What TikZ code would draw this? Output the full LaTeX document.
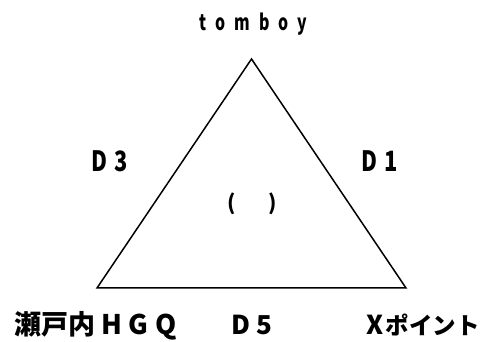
\documentclass[tikz,border=0pt]{standalone}
\usepackage{fontspec}
\setmainfont{Noto Sans CJK JP}
\usetikzlibrary{positioning}

% spaced-out latin letters
\newcommand{\lsp}[2][25]{{\addfontfeature{LetterSpace=#1}#2}}
\newcommand{\fsz}[1]{\fontsize{#1}{#1}\selectfont}
% condensed letters
\newcommand{\narrow}[2][0.75]{\scalebox{#1}[1]{#2}}

\begin{document}
\begin{tikzpicture}[x=1pt,y=1pt]
    \tikzstyle{lbl}=[font=\fsz{26}\bfseries,inner
    sep=0pt,anchor=base west]

    \tikzstyle{side}=[draw=black,line width=1.5pt,line join=miter]

    \useasboundingbox (0,0) rectangle (481,342);

    \coordinate (apex) at (251.5,283);
    \coordinate (hgq_pt) at (97,54);
    \coordinate (xpt_pt) at (406,54);

    \node[lbl,font=\fsz{22}\bfseries](tomboy) at (199,311){\narrow[0.72]{\lsp[58]{tomboy}}};
    \node[lbl,font=\fsz{28}\bfseries](d3) at (91,170.3){\narrow[0.78]{\lsp[32]{D3}}};
    \node[lbl,font=\fsz{28}\bfseries](d1) at (361,170.3){\narrow[0.78]{\lsp[32]{D1}}};
    \node[lbl,anchor=center,font=\fsz{21}\bfseries](blank) at (252.5,138){(\hspace{33pt})};

    \node[lbl,font=\fsz{27}\bfseries](hgq) at (14,7){瀬戸内\hspace{6pt}\lsp{HGQ}};
    \node[lbl](d5) at (231,7){\lsp{D5}};
    \node[lbl](xpoint) at (366,7){X\hspace{2.5pt}{\fsz{23.5}ポイント}};

    \draw[side] (apex) -- (hgq_pt) -- (xpt_pt) -- cycle;
\end{tikzpicture}
\end{document}
